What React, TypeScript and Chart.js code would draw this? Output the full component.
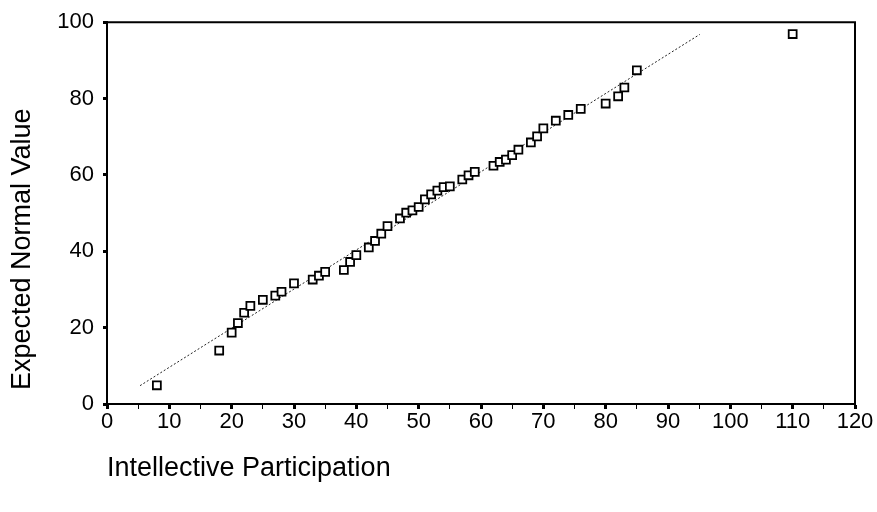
import { useEffect, useRef } from 'react';
import { Chart, registerables } from 'chart.js';

Chart.register(...registerables);

// Observed scores (x) and their expected normal values (y)
const participation = [
  8, 18, 20, 21, 22, 23, 25, 27, 28, 30, 33, 34, 35, 38, 39, 40,
  42, 43, 44, 45, 47, 48, 49, 50, 51, 52, 53, 54, 55, 57, 58, 59,
  62, 63, 64, 65, 66, 68, 69, 70, 72, 74, 76, 80, 82, 83, 85, 110,
];
const expectedNormal = [
  4.9, 14.0, 18.7, 21.2, 23.9, 25.7, 27.3, 28.4, 29.4, 31.6, 32.6, 33.6, 34.6, 35.1, 37.2, 39.0,
  41.0, 42.7, 44.6, 46.6, 48.6, 50.1, 50.7, 51.6, 53.6, 54.9, 55.9, 56.8, 57.0, 58.8, 59.9, 60.8,
  62.4, 63.4, 64.0, 65.2, 66.6, 68.5, 70.1, 72.2, 74.2, 75.7, 77.3, 78.7, 80.6, 82.9, 87.4, 96.9,
];

// Reference line end points
const refLineX = [5.3, 95.1];
const refLineY = [4.8, 96.8];

// Axis ranges and steps
const xRange = [0, 120];
const xMinorStep = 5;
const xLabelStep = 10;
const yRange = [0, 100];
const yStep = 20;

const xTitle = 'Intellective Participation';
const yTitle = 'Expected Normal Value';

const FONT = '"Liberation Sans", Arial, Helvetica, sans-serif';

const framePlugin = {
  id: 'frameAndYTitle',
  afterDraw(chart: any) {
    const { ctx, chartArea } = chart;
    const { left, top, right, bottom } = chartArea;
    ctx.save();
    ctx.strokeStyle = '#000';
    ctx.lineWidth = 2;
    ctx.beginPath();
    ctx.moveTo(left - 1, top);
    ctx.lineTo(right, top);
    ctx.lineTo(right, bottom);
    ctx.stroke();

    ctx.translate(left - 84, bottom - 14);
    ctx.rotate(-Math.PI / 2);
    ctx.font = `27px ${FONT}`;
    ctx.fillStyle = '#000';
    ctx.textAlign = 'left';
    ctx.textBaseline = 'middle';
    ctx.fillText(yTitle, 0, 0);
    ctx.restore();
  },
};

export default function App() {
  const canvasRef = useRef<HTMLCanvasElement | null>(null);

  useEffect(() => {
    document.body.style.margin = '0';
    const canvas = canvasRef.current;
    if (!canvas) return;

    const points = participation.map((x, i) => ({ x, y: expectedNormal[i] }));
    const refLine = refLineX.map((x, i) => ({ x, y: refLineY[i] }));

    const chart = new Chart(canvas, {
      type: 'scatter',
      data: {
        datasets: [
          {
            data: points,
            pointStyle: 'rect',
            pointRadius: 5.6,
            pointBackgroundColor: '#fff',
            pointBorderColor: '#000',
            pointBorderWidth: 1.8,
            order: 0,
          },
          {
            data: refLine,
            showLine: true,
            borderColor: '#222',
            borderWidth: 1,
            borderDash: [2, 2],
            pointRadius: 0,
            order: 1,
          } as any,
        ],
      },
      options: {
        responsive: false,
        animation: false,
        devicePixelRatio: 1,
        layout: { padding: { left: 0, top: 20, right: 22, bottom: 0 } },
        plugins: {
          legend: { display: false },
          tooltip: { enabled: false },
        },
        scales: {
          x: {
            type: 'linear',
            min: xRange[0],
            max: xRange[1],
            afterFit: (s: any) => {
              s.height = 108;
            },
            ticks: {
              stepSize: xMinorStep,
              autoSkip: false,
              maxRotation: 0,
              color: '#000',
              padding: 0,
              font: { family: FONT, size: 22 },
              callback: (v: any) => (Number(v) % xLabelStep === 0 ? String(v) : ''),
            },
            grid: {
              drawOnChartArea: false,
              drawTicks: true,
              tickLength: 5,
              tickColor: '#000',
              tickWidth: (c: any) => (c.tick && c.tick.value % xLabelStep === 0 ? 3 : 1),
            } as any,
            border: { display: true, color: '#000', width: 2 },
            title: {
              display: true,
              text: xTitle,
              align: 'start',
              color: '#000',
              font: { family: FONT, size: 27 },
              padding: { top: 0, bottom: 27 },
            },
          },
          y: {
            type: 'linear',
            min: yRange[0],
            max: yRange[1],
            afterFit: (s: any) => {
              s.width = 107;
            },
            ticks: {
              stepSize: yStep,
              color: '#000',
              padding: 9,
              font: { family: FONT, size: 22 },
            },
            grid: {
              drawOnChartArea: false,
              drawTicks: true,
              tickLength: 4,
              tickColor: '#000',
              tickWidth: 3,
            },
            border: { display: true, color: '#000', width: 2 },
          },
        },
      },
      plugins: [framePlugin],
    });

    return () => chart.destroy();
  }, []);

  return <canvas ref={canvasRef} width={877} height={512} style={{ display: 'block' }} />;
}
